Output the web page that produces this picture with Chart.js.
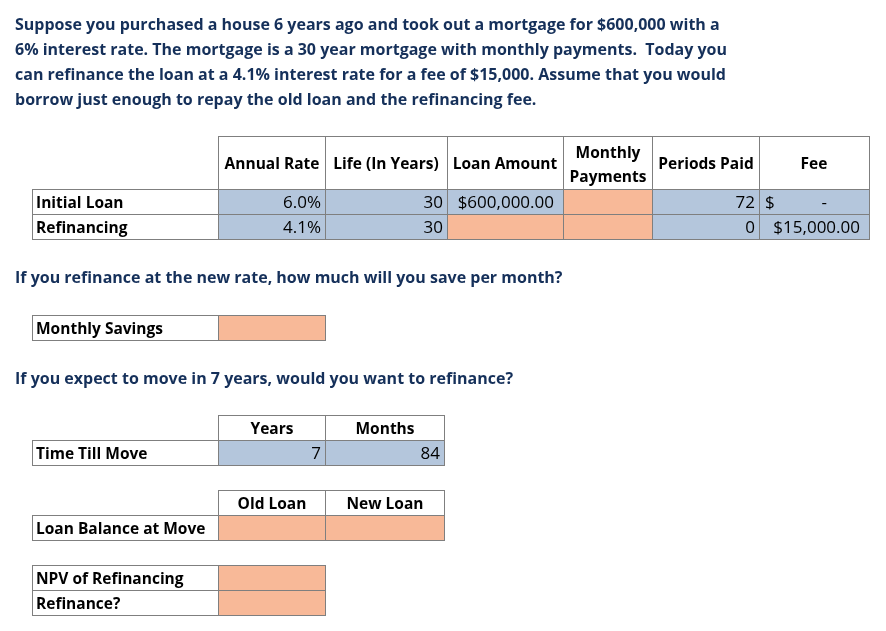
<!DOCTYPE html>
<html>
<head>
<meta charset="utf-8">
<script src="https://cdn.jsdelivr.net/npm/chart.js@4.4.1/dist/chart.umd.min.js"></script>
<style>
  html, body { margin: 0; padding: 0; background: #ffffff; }
  #sheet { display: block; }
</style>
</head>
<body>
<canvas id="sheet" width="886" height="631"></canvas>
<script>
// Sheet content
const introLines = [
  'Suppose you purchased a house 6 years ago and took out a mortgage for $600,000 with a',
  '6% interest rate. The mortgage is a 30 year mortgage with monthly payments.  Today you',
  'can refinance the loan at a 4.1% interest rate for a fee of $15,000. Assume that you would',
  'borrow just enough to repay the old loan and the refinancing fee.'
];
const loanColumns = ['Annual Rate', 'Life (In Years)', 'Loan Amount', 'Monthly|Payments', 'Periods Paid', 'Fee'];
const loanRows = ['Initial Loan', 'Refinancing'];
const annualRate = [6.0, 4.1];
const lifeYears = [30, 30];
const loanAmount = [600000, null];
const monthlyPayments = [null, null];
const periodsPaid = [72, 0];
const fees = [0, 15000];

const savingsQuestion = 'If you refinance at the new rate, how much will you save per month?';
const savingsLabel = 'Monthly Savings';

const moveQuestion = 'If you expect to move in 7 years, would you want to refinance?';
const moveColumns = ['Years', 'Months'];
const moveLabel = 'Time Till Move';
const moveYears = 7;
const moveMonths = 84;

const balanceColumns = ['Old Loan', 'New Loan'];
const balanceLabel = 'Loan Balance at Move';
const balanceValues = [null, null];

const decisionLabels = ['NPV of Refinancing', 'Refinance?'];
const decisionValues = [null, null];

// Layout (sheet coordinates)
const NAVY = '#15305a';
const BLUE = '#b4c6dc';
const ORANGE = '#f8b998';
const GRID = '#7f7f7f';
const FONT = '"Open Sans", Lato, sans-serif';
const labelX = [32, 218];
const loanColX = [218, 325, 447, 563, 652, 759, 869];
const smallColX = [218, 325, 444];

function fmtPct(v) { return v.toFixed(1) + '%'; }
function fmtMoney(v) { return '$' + v.toLocaleString('en-US', { minimumFractionDigits: 2, maximumFractionDigits: 2 }); }

const sheetPlugin = {
  id: 'sheet',
  afterDraw(chart) {
    const ctx = chart.ctx;
    const sx = chart.scales.x, sy = chart.scales.y;
    const X = v => Math.round(sx.getPixelForValue(v));
    const Y = v => Math.round(sy.getPixelForValue(v));

    function cell(x0, y0, x1, y1, fill) {
      if (fill) {
        ctx.fillStyle = fill;
        ctx.fillRect(X(x0), Y(y0), X(x1) - X(x0), Y(y1) - Y(y0));
      }
      ctx.strokeStyle = GRID;
      ctx.lineWidth = 1;
      ctx.strokeRect(X(x0) + 0.5, Y(y0) + 0.5, X(x1) - X(x0), Y(y1) - Y(y0));
    }
    function text(str, x, y, align, bold, color, size) {
      ctx.font = (bold ? 'bold ' : '') + (size || 15.5) + 'px ' + FONT;
      ctx.fillStyle = color || '#000000';
      ctx.textAlign = align || 'left';
      ctx.textBaseline = 'alphabetic';
      ctx.fillText(str, X(x), Y(y));
    }
    function label(str, y0, y1) {
      cell(labelX[0], y0, labelX[1], y1, null);
      text(str, labelX[0] + 4, y1 - 6, 'left', true);
    }
    function header(str, x0, x1, y0, y1) {
      cell(x0, y0, x1, y1, null);
      const parts = str.split('|');
      const mid = (x0 + x1) / 2;
      if (parts.length === 1) {
        text(parts[0], mid, (y0 + y1) / 2 + 6, 'center', true);
      } else {
        text(parts[0], mid, (y0 + y1) / 2 - 5, 'center', true);
        text(parts[1], mid, (y0 + y1) / 2 + 19, 'center', true);
      }
    }
    function valueCell(x0, x1, y0, y1, str) {
      const empty = str === null;
      cell(x0, y0, x1, y1, empty ? ORANGE : BLUE);
      if (!empty) text(str, x1 - 4, y1 - 6, 'right', false, null, 17);
    }
    function moneyCell(x0, x1, y0, y1, v) {
      if (v === null) { cell(x0, y0, x1, y1, ORANGE); return; }
      cell(x0, y0, x1, y1, BLUE);
      if (v === 0) {
        text('$', x0 + 6, y1 - 6, 'left', false, null, 17);
        text('-', x1 - 42, y1 - 6, 'right', false, null, 17);
      } else {
        text(fmtMoney(v), x1 - 9, y1 - 6, 'right', false, null, 17);
      }
    }

    // Intro paragraph
    introLines.forEach((line, i) => text(line, 15, 30 + i * 25, 'left', true, NAVY, 16));

    // Loan table
    const headTop = 136, headBot = 189, rowH = 25;
    loanColumns.forEach((c, i) => header(c, loanColX[i], loanColX[i + 1], headTop, headBot));
    loanRows.forEach((r, i) => {
      const y0 = headBot + i * rowH, y1 = y0 + rowH;
      label(r, y0, y1);
      valueCell(loanColX[0], loanColX[1], y0, y1, fmtPct(annualRate[i]));
      valueCell(loanColX[1], loanColX[2], y0, y1, String(lifeYears[i]));
      moneyCell(loanColX[2], loanColX[3], y0, y1, loanAmount[i]);
      valueCell(loanColX[3], loanColX[4], y0, y1, monthlyPayments[i]);
      valueCell(loanColX[4], loanColX[5], y0, y1, String(periodsPaid[i]));
      moneyCell(loanColX[5], loanColX[6], y0, y1, fees[i]);
    });

    // Monthly savings
    text(savingsQuestion, 15, 283, 'left', true, NAVY, 16);
    label(savingsLabel, 315, 340);
    valueCell(218, 325, 315, 340, null);

    // Moving
    text(moveQuestion, 15, 384, 'left', true, NAVY, 16);
    moveColumns.forEach((c, i) => header(c, smallColX[i], smallColX[i + 1], 415, 440));
    label(moveLabel, 440, 465);
    valueCell(smallColX[0], smallColX[1], 440, 465, String(moveYears));
    valueCell(smallColX[1], smallColX[2], 440, 465, String(moveMonths));

    balanceColumns.forEach((c, i) => header(c, smallColX[i], smallColX[i + 1], 490, 515));
    label(balanceLabel, 515, 540);
    balanceValues.forEach((v, i) => valueCell(smallColX[i], smallColX[i + 1], 515, 540, v));

    decisionLabels.forEach((l, i) => {
      const y0 = 565 + i * rowH;
      label(l, y0, y0 + rowH);
      valueCell(smallColX[0], smallColX[1], y0, y0 + rowH, decisionValues[i]);
    });
  }
};

new Chart(document.getElementById('sheet').getContext('2d'), {
  type: 'scatter',
  data: { datasets: [{ data: [], showLine: false }] },
  options: {
    responsive: false,
    animation: false,
    events: [],
    layout: { padding: 0 },
    plugins: { legend: { display: false }, tooltip: { enabled: false } },
    scales: {
      x: { type: 'linear', min: 0, max: 886, display: false },
      y: { type: 'linear', min: 0, max: 631, reverse: true, display: false }
    }
  },
  plugins: [sheetPlugin]
});
</script>
</body>
</html>
